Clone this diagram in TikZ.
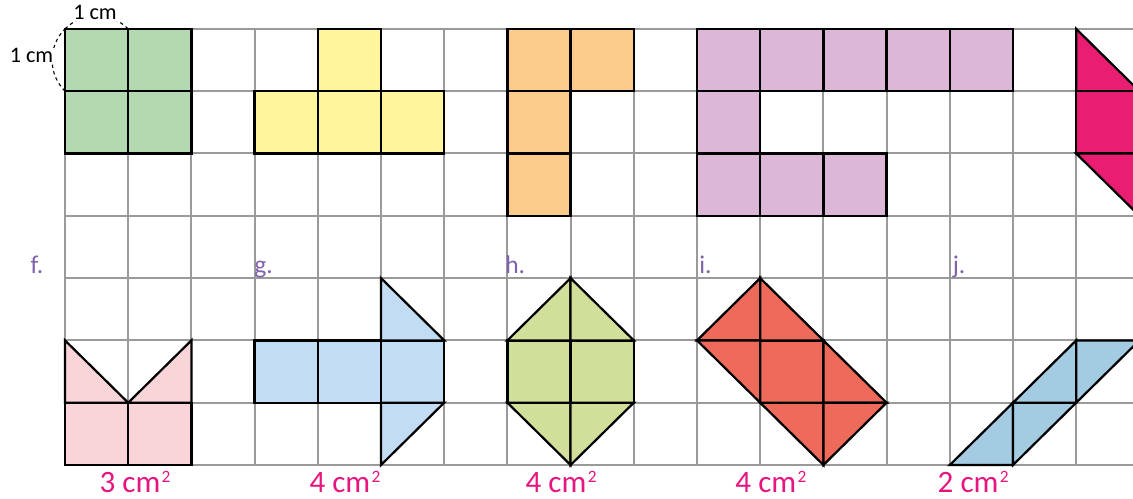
\documentclass[tikz,border=0pt]{standalone}
\usepackage{fontspec}
\setmainfont{Carlito}
\usepackage{xcolor}
\usepackage{tikz}
\usetikzlibrary{positioning,calc}
\definecolor{gridgray}{HTML}{9A9A9A}
\definecolor{leaf}{HTML}{B3D7AF}
\definecolor{lemon}{HTML}{FFF59D}
\definecolor{apricot}{HTML}{FBCB8C}
\definecolor{lilac}{HTML}{DCB7D8}
\definecolor{rosered}{HTML}{E91E72}
\definecolor{blush}{HTML}{F9D5DA}
\definecolor{sky}{HTML}{C2DDF3}
\definecolor{pear}{HTML}{D0E09B}
\definecolor{coral}{HTML}{EE6A5A}
\definecolor{steel}{HTML}{A3CBE2}
\definecolor{iris}{HTML}{7F62AB}
\definecolor{fuchsia}{HTML}{E6157F}
\newcommand{\sqcm}{cm\kern0.6pt\raisebox{4.6pt}{\fontsize{7.8}{8}\selectfont 2}}
\tikzset{
  gridline/.style={draw=gridgray, line width=0.9pt},
  piece/.style={draw=black, line width=1pt, line join=miter},
  measure/.style={draw=black, line width=0.5pt, dash pattern=on 1.5pt off 1.5pt},
  unitlbl/.style={font=\fontsize{10}{12}\selectfont, fill=white, inner sep=0.5pt, anchor=base},
  tag/.style={font=\fontsize{11.5}{13}\selectfont, text=iris, inner sep=0pt, anchor=base west},
  arealbl/.style={font=\fontsize{14}{16}\selectfont, text=fuchsia, inner sep=0pt, anchor=base}
}

\begin{document}
\begin{tikzpicture}[x=1cm, y=0.9858cm]
  \useasboundingbox (-1.0285,-0.5297) rectangle (16.899,7.4639);
  \clip (-1.0285,-0.5297) rectangle (16.899,7.4639);
  % grid
  \foreach \i in {0,...,17} \draw[gridline] (\i,0) -- (\i,7);
  \foreach \j in {0,...,7} \draw[gridline] (0,\j) -- (17,\j);
  % top row
  \foreach \x/\y in {0/5,1/5,0/6,1/6} \draw[piece, fill=leaf] (\x,\y) rectangle ++(1,1);
  \foreach \x/\y in {4/6,3/5,4/5,5/5} \draw[piece, fill=lemon] (\x,\y) rectangle ++(1,1);
  \foreach \x/\y in {7/6,8/6,7/5,7/4} \draw[piece, fill=apricot] (\x,\y) rectangle ++(1,1);
  \foreach \x/\y in {10/6,11/6,12/6,13/6,14/6,10/5,10/4,11/4,12/4} \draw[piece, fill=lilac] (\x,\y) rectangle ++(1,1);
  \draw[piece, fill=rosered] (16,7) -- (17,6) -- (16,6) -- cycle;
  \draw[piece, fill=rosered] (16,5) rectangle (17,6);
  \draw[piece, fill=rosered] (16,5) -- (17,5) -- (17,4) -- cycle;
  % side length marks
  \draw[measure] (0,7) to[bend left=45] (1,7);
  \draw[measure] (0,6) to[bend left=45] (0,7);
  \node[unitlbl] (lenTop) at (0.475,7.143) {1 cm};
  \node[unitlbl] (lenSide) at (-0.53,6.453) {1 cm};
  % bottom row
  \foreach \x/\y in {0/0,1/0} \draw[piece, fill=blush] (\x,\y) rectangle ++(1,1);
  \draw[piece, fill=blush] (0,2) -- (0,1) -- (1,1) -- cycle;
  \draw[piece, fill=blush] (2,2) -- (2,1) -- (1,1) -- cycle;
  \foreach \x/\y in {3/1,4/1,5/1} \draw[piece, fill=sky] (\x,\y) rectangle ++(1,1);
  \draw[piece, fill=sky] (5,2) -- (5,3) -- (6,2) -- cycle;
  \draw[piece, fill=sky] (5,1) -- (6,1) -- (5,0) -- cycle;
  \foreach \x/\y in {7/1,8/1} \draw[piece, fill=pear] (\x,\y) rectangle ++(1,1);
  \draw[piece, fill=pear] (7,2) -- (8,3) -- (8,2) -- cycle;
  \draw[piece, fill=pear] (8,3) -- (9,2) -- (8,2) -- cycle;
  \draw[piece, fill=pear] (7,1) -- (8,1) -- (8,0) -- cycle;
  \draw[piece, fill=pear] (8,0) -- (9,1) -- (8,1) -- cycle;
  \draw[piece, fill=coral] (11,1) rectangle (12,2);
  \draw[piece, fill=coral] (10,2) -- (11,3) -- (11,2) -- cycle;
  \draw[piece, fill=coral] (11,3) -- (11,2) -- (12,2) -- cycle;
  \draw[piece, fill=coral] (10,2) -- (11,2) -- (11,1) -- cycle;
  \draw[piece, fill=coral] (12,2) -- (12,1) -- (13,1) -- cycle;
  \draw[piece, fill=coral] (11,1) -- (12,1) -- (12,0) -- cycle;
  \draw[piece, fill=coral] (12,1) -- (13,1) -- (12,0) -- cycle;
  \draw[piece, fill=steel] (14,0) -- (15,0) -- (15,1) -- cycle;
  \draw[piece, fill=steel] (15,0) -- (16,1) -- (15,1) -- cycle;
  \draw[piece, fill=steel] (15,1) -- (16,1) -- (16,2) -- cycle;
  \draw[piece, fill=steel] (16,1) -- (17,2) -- (16,2) -- cycle;
  % letters
  \node[tag] (tagF) at (-0.55,3.07) {f.};
  \node[tag] (tagG) at (2.99,3.07) {g.};
  \node[tag] (tagH) at (6.96,3.07) {h.};
  \node[tag] (tagI) at (10.03,3.07) {i.};
  \node[tag] (tagJ) at (14.04,3.07) {j.};
  % areas
  \node[arealbl] (areaF) at (1.108,-0.449) {3 \sqcm};
  \node[arealbl] (areaG) at (4.43,-0.449) {4 \sqcm};
  \node[arealbl] (areaH) at (7.85,-0.449) {4 \sqcm};
  \node[arealbl] (areaI) at (11.17,-0.449) {4 \sqcm};
  \node[arealbl] (areaJ) at (14.37,-0.449) {2 \sqcm};
\end{tikzpicture}
\end{document}
